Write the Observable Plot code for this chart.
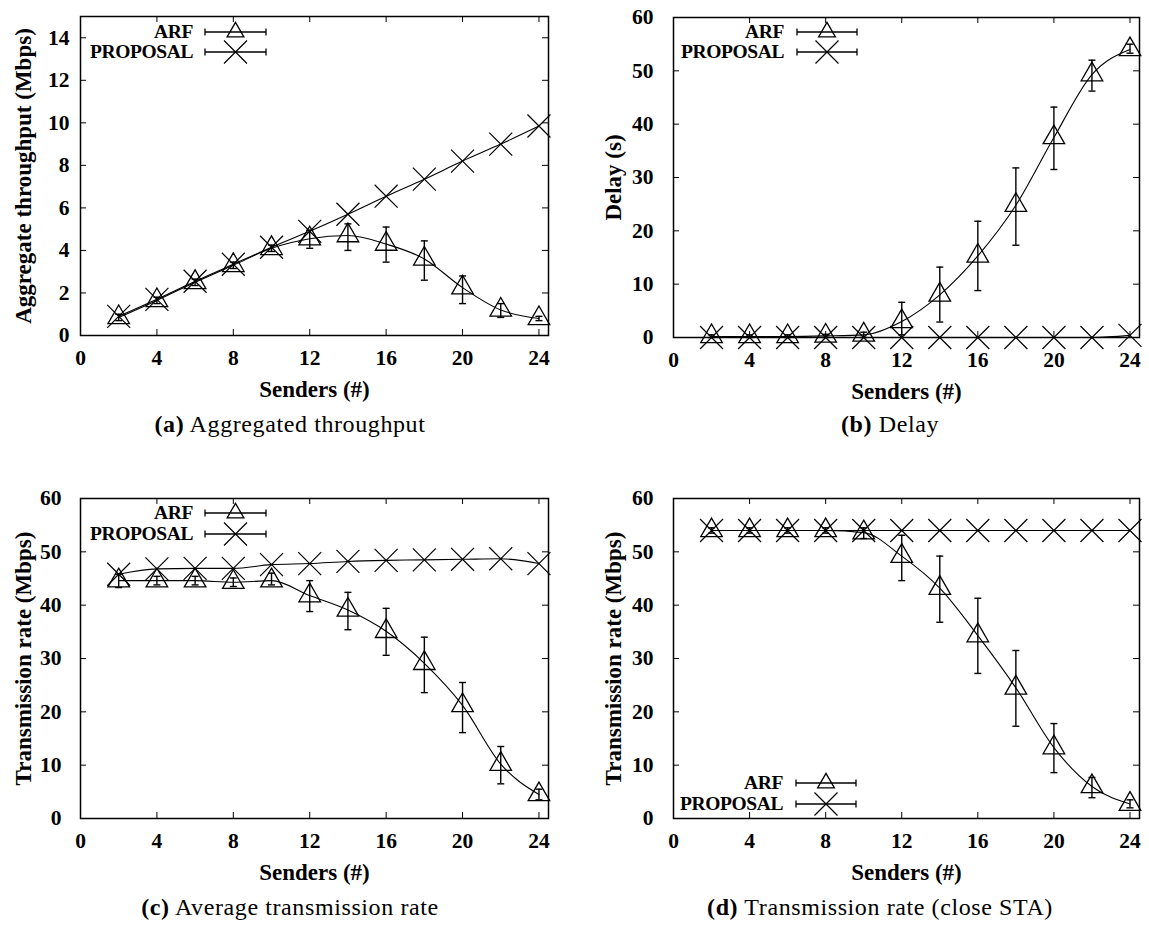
<!DOCTYPE html>
<html><head><meta charset="utf-8">
<script src="https://cdn.jsdelivr.net/npm/d3@7"></script>
<script src="https://cdn.jsdelivr.net/npm/@observablehq/plot@0.6"></script>
<style>
body{margin:0;background:#fff;}
#wrap{position:relative;width:1149px;height:925px;overflow:hidden;background:#fff;}
.panel{position:absolute;}
.cap{position:absolute;font-family:"Liberation Serif",serif;font-size:24px;letter-spacing:0.6px;white-space:nowrap;transform:translate(-50%,-50%);color:#000;line-height:1;}
.cap b{font-weight:bold;}
</style></head><body><div id="wrap"></div>
<script>
// ---- data ----
const senders = [2, 4, 6, 8, 10, 12, 14, 16, 18, 20, 22, 24];
const xTicks = [0, 4, 8, 12, 16, 20, 24];

// (a) aggregated throughput (Mbps)
const thrARF    = [0.85, 1.65, 2.5, 3.3, 4.1, 4.55, 4.7, 4.3, 3.6, 2.25, 1.2, 0.8];
const thrARFlo  = [0.7, 1.5, 2.35, 3.15, 3.95, 4.1, 4.0, 3.45, 2.6, 1.5, 0.85, 0.7];
const thrARFhi  = [1.0, 1.8, 2.65, 3.45, 4.25, 4.95, 5.25, 5.1, 4.45, 2.8, 1.5, 0.9];
const thrProp   = [0.9, 1.7, 2.55, 3.35, 4.15, 4.9, 5.7, 6.55, 7.35, 8.2, 9.0, 9.85];
const thrTicks  = [0, 2, 4, 6, 8, 10, 12, 14];

// (b) delay (s)
const delARF    = [0.2, 0.2, 0.2, 0.3, 0.5, 3.0, 8.0, 15.3, 24.8, 37.5, 49.3, 54.0];
const delARFlo  = [0, 0, 0, 0, 0, 0.5, 2.9, 8.8, 17.3, 31.5, 46.2, 53.3];
const delARFhi  = [0.5, 0.5, 0.5, 0.6, 1.0, 6.6, 13.2, 21.8, 31.8, 43.2, 52.0, 55.0];
const delProp   = [0, 0, 0, 0, 0, 0, 0, 0, 0, 0, 0, 0.4];
const tenTicks  = [0, 10, 20, 30, 40, 50, 60];

// (c) average transmission rate (Mbps)
const avgARF    = [44.6, 44.6, 44.6, 44.3, 44.6, 41.8, 39.1, 35.1, 29.1, 21.2, 10.2, 4.5];
const avgARFlo  = [43.3, 43.8, 43.8, 43.5, 43.8, 38.8, 35.4, 30.6, 23.6, 16.1, 6.5, 3.5];
const avgARFhi  = [45.8, 45.4, 45.4, 45.1, 46.0, 44.6, 42.4, 39.4, 34.0, 25.5, 13.5, 5.5];
const avgProp   = [45.8, 46.8, 46.9, 46.9, 47.6, 47.8, 48.2, 48.4, 48.5, 48.6, 48.7, 47.8];

// (d) transmission rate, close STA (Mbps)
const cloARF    = [54, 54, 54, 54, 53.6, 49.2, 43.2, 34.3, 24.5, 13.3, 6.0, 2.7];
const cloARFlo  = [53.5, 53.5, 53.5, 53.5, 52.5, 44.6, 36.8, 27.2, 17.3, 8.6, 3.9, 2.0];
const cloARFhi  = [54.5, 54.5, 54.5, 54.5, 54.5, 53.1, 49.2, 41.3, 31.5, 17.8, 7.7, 3.5];
const cloProp   = [54, 54, 54, 54, 54, 54, 54, 54, 54, 54, 54, 54];

const seriesNames = ["ARF", "PROPOSAL"];
const xLabel = "Senders (#)";

// ---- drawing ----
const FONT = "'Liberation Serif', 'Times New Roman', serif";
const capSym = {draw(ctx, size) { const r = Math.sqrt(size / Math.PI); ctx.moveTo(-r, 0); ctx.lineTo(r, 0); }};

function panel(o) {
  const rows = senders.map((s, i) => ({s, arf: o.arf[i], lo: o.lo[i], hi: o.hi[i], prop: o.prop[i]}));
  const H = o.height - o.mTop - o.mBottom;
  const W = o.width - o.mLeft - o.mRight;
  const plot = Plot.plot({
    width: o.width, height: o.height,
    marginLeft: o.mLeft, marginRight: o.mRight, marginTop: o.mTop, marginBottom: o.mBottom,
    style: {fontFamily: FONT, fontWeight: "bold", fontSize: "21.5px", color: "black", background: "white", overflow: "visible"},
    x: {domain: [0, 24.5]},
    y: {domain: [0, o.yMax]},
    marks: [
      Plot.axisX({ticks: xTicks, tickSize: 0, tickPadding: 14, label: null, fontSize: 21.5}),
      Plot.axisY({ticks: o.yTicks, tickSize: 0, tickPadding: o.yPad, label: null, fontSize: 21.5}),
      Plot.tickX(xTicks, {x: d => d, insetTop: H - 6, stroke: "black", strokeWidth: 1}),
      Plot.tickX(xTicks, {x: d => d, insetBottom: H - 6, stroke: "black", strokeWidth: 1}),
      Plot.tickY(o.yTicks, {y: d => d, insetRight: W - 6, stroke: "black", strokeWidth: 1}),
      Plot.tickY(o.yTicks, {y: d => d, insetLeft: W - 6, stroke: "black", strokeWidth: 1}),
      Plot.line(rows, {x: "s", y: "prop", curve: "monotone-x", stroke: "black", strokeWidth: 1.1}),
      Plot.line(rows, {x: "s", y: "arf", curve: "monotone-x", stroke: "black", strokeWidth: 1.1}),
      Plot.ruleX(rows, {x: "s", y1: "lo", y2: "hi", stroke: "black", strokeWidth: 1.4}),
      Plot.dot(rows, {x: "s", y: "lo", symbol: capSym, r: 3.5, stroke: "black", strokeWidth: 1.4}),
      Plot.dot(rows, {x: "s", y: "hi", symbol: capSym, r: 3.5, stroke: "black", strokeWidth: 1.4}),
      Plot.dot(rows, {x: "s", y: "arf", symbol: "triangle", r: 8, stroke: "black", fill: "none", strokeWidth: 1.3}),
      Plot.dot(rows, {x: "s", y: "prop", symbol: "times", r: 10.5, stroke: "black", strokeWidth: 1.2}),
      Plot.frame({stroke: "black", strokeWidth: 1.5}),
      Plot.text([xLabel], {text: d => d, frameAnchor: "bottom", dy: 54, dx: o.xlabDx || 0, fontSize: 23, fontWeight: "bold", lineAnchor: "middle", textAnchor: "middle"}),
      Plot.text([o.yLabel], {text: d => d, frameAnchor: "left", rotate: -90, dx: o.ylabDx, fontSize: 23, fontWeight: "bold", lineAnchor: "middle", textAnchor: "middle"})
    ]
  });
  // legend
  const svg = d3.select(plot);
  const g = svg.append("g").attr("font-family", FONT).attr("font-weight", "bold").attr("font-size", 19.5);
  const L = o.legend;
  seriesNames.forEach((name, i) => {
    const y = L.y + i * L.gap;
    g.append("text").attr("x", L.textEnd).attr("y", y).attr("dy", "0.33em").attr("text-anchor", "end").attr("letter-spacing", "-0.4px").text(name);
    g.append("line").attr("x1", L.x1).attr("x2", L.x2).attr("y1", y).attr("y2", y).attr("stroke", "black").attr("stroke-width", 1.3);
    g.append("line").attr("x1", L.x1).attr("x2", L.x1).attr("y1", y - 3.5).attr("y2", y + 3.5).attr("stroke", "black").attr("stroke-width", 1.3);
    g.append("line").attr("x1", L.x2).attr("x2", L.x2).attr("y1", y - 3.5).attr("y2", y + 3.5).attr("stroke", "black").attr("stroke-width", 1.3);
    const mx = (L.x1 + L.x2) / 2;
    if (i === 0) {
      g.append("path").attr("d", d3.symbol(d3.symbolTriangle2, Math.PI * 64)()).attr("transform", `translate(${mx},${y})`).attr("fill", "none").attr("stroke", "black").attr("stroke-width", 1.3);
    } else {
      g.append("path").attr("d", d3.symbol(d3.symbolTimes, Math.PI * 10.5 * 10.5)()).attr("transform", `translate(${mx},${y})`).attr("fill", "none").attr("stroke", "black").attr("stroke-width", 1.2);
    }
  });
  const div = document.createElement("div");
  div.className = "panel";
  div.style.left = o.left + "px";
  div.style.top = o.top + "px";
  div.appendChild(plot);
  document.getElementById("wrap").appendChild(div);
  const cap = document.createElement("div");
  cap.className = "cap";
  cap.style.left = o.capX + "px";
  cap.style.top = o.capY + "px";
  cap.innerHTML = o.caption;
  document.getElementById("wrap").appendChild(cap);
}

panel({left: 0, top: 0, width: 574, height: 400, mLeft: 80, mRight: 26, mTop: 16, mBottom: 65,
  yMax: 15, yTicks: thrTicks, yPad: 11, yLabel: "Aggregate throughput (Mbps)", ylabDx: -57,
  arf: thrARF, lo: thrARFlo, hi: thrARFhi, prop: thrProp,
  legend: {y: 32, gap: 20, textEnd: 193, x1: 205, x2: 266},
  caption: "<b>(a)</b> Aggregated throughput", capX: 290, capY: 424});

panel({left: 574, top: 0, width: 575, height: 400, mLeft: 99, mRight: 10, mTop: 17, mBottom: 63,
  yMax: 60, yTicks: tenTicks, yPad: 20, yLabel: "Delay (s)", ylabDx: -60,
  arf: delARF, lo: delARFlo, hi: delARFhi, prop: delProp,
  legend: {y: 32, gap: 20, textEnd: 210, x1: 223, x2: 283},
  caption: "<b>(b)</b> Delay", capX: 890, capY: 424});

panel({left: 0, top: 480, width: 574, height: 400, mLeft: 80, mRight: 26, mTop: 18, mBottom: 62,
  yMax: 60, yTicks: tenTicks, yPad: 19, yLabel: "Transmission rate (Mbps)", ylabDx: -57,
  arf: avgARF, lo: avgARFlo, hi: avgARFhi, prop: avgProp,
  legend: {y: 33, gap: 21, textEnd: 193, x1: 205, x2: 266},
  caption: "<b>(c)</b> Average transmission rate", capX: 290, capY: 907});

panel({left: 574, top: 480, width: 575, height: 400, mLeft: 99, mRight: 10, mTop: 18, mBottom: 62,
  yMax: 60, yTicks: tenTicks, yPad: 20, yLabel: "Transmission rate (Mbps)", ylabDx: -60,
  arf: cloARF, lo: cloARFlo, hi: cloARFhi, prop: cloProp,
  legend: {y: 303, gap: 21, textEnd: 209, x1: 222, x2: 282},
  caption: "<b>(d)</b> Transmission rate (close STA)", capX: 880, capY: 907});
</script></body></html>
